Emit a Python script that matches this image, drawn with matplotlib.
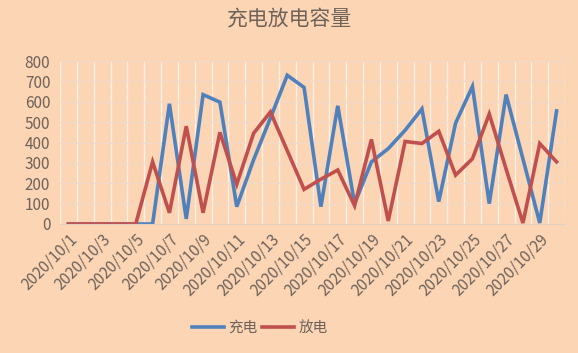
import numpy as np
import matplotlib.pyplot as plt

plt.rcParams['font.family'] = ['Noto Sans CJK SC', 'DejaVu Sans']

# data
dates = [f'2020/10/{d}' for d in range(1, 31)]
charge = [0, 0, 0, 0, 0, 0, 590, 25, 635, 598, 85, 315, 520, 730, 670,
          85, 580, 100, 305, 370, 460, 565, 110, 495, 675, 100, 635, 320, 5, 555]
discharge = [0, 0, 0, 0, 0, 305, 55, 480, 55, 450, 195, 445, 550, 360, 170,
             220, 265, 90, 415, 15, 405, 395, 455, 240, 320, 540, 270, 5, 395, 305]

bg = '#FCD5B5'
txt = '#6E6259'

fig = plt.figure(figsize=(5.78, 3.53), dpi=100, facecolor=bg)
ax = fig.add_axes([60 / 578, 1 - 224 / 353, 505 / 578, 163 / 353], facecolor=bg)

x = np.arange(len(dates))
ax.plot(x, charge, color='#4F81BD', lw=2.6, label='充电', solid_joinstyle='miter')
ax.plot(x, discharge, color='#C0504D', lw=2.6, label='放电', solid_joinstyle='miter')

ax.set_xlim(-0.5, len(dates) - 0.5)
ax.set_ylim(0, 800)
ax.set_yticks(range(0, 801, 100))
ax.set_xticks(x[::2])
ax.set_xticklabels(dates[::2], rotation=45, ha='right', rotation_mode='anchor')
ax.set_xticks(np.arange(-0.5, len(dates), 1), minor=True)

ax.grid(axis='y', color='#EED9CB', lw=0.8)
ax.grid(axis='x', which='minor', color='#FFF1E6', lw=1.0)
ax.set_axisbelow(True)
for s in ['top', 'right', 'left']:
    ax.spines[s].set_visible(False)
ax.spines['bottom'].set_color('#E3CFC2')
ax.tick_params(axis='both', which='both', length=0, colors=txt, labelsize=11)
ax.tick_params(axis='y', pad=7)
ax.tick_params(axis='x', pad=5)

fig.suptitle('充电放电容量', x=0.5, y=0.975, fontsize=15, color=txt)
fig.legend(loc='center', bbox_to_anchor=(260 / 578, 1 - 328 / 353), ncol=2, frameon=False,
           fontsize=10.5, labelcolor=txt, handlelength=2.2, columnspacing=0.3,
           handletextpad=0.3)

fig.savefig('out.png', dpi=100, facecolor=bg)
